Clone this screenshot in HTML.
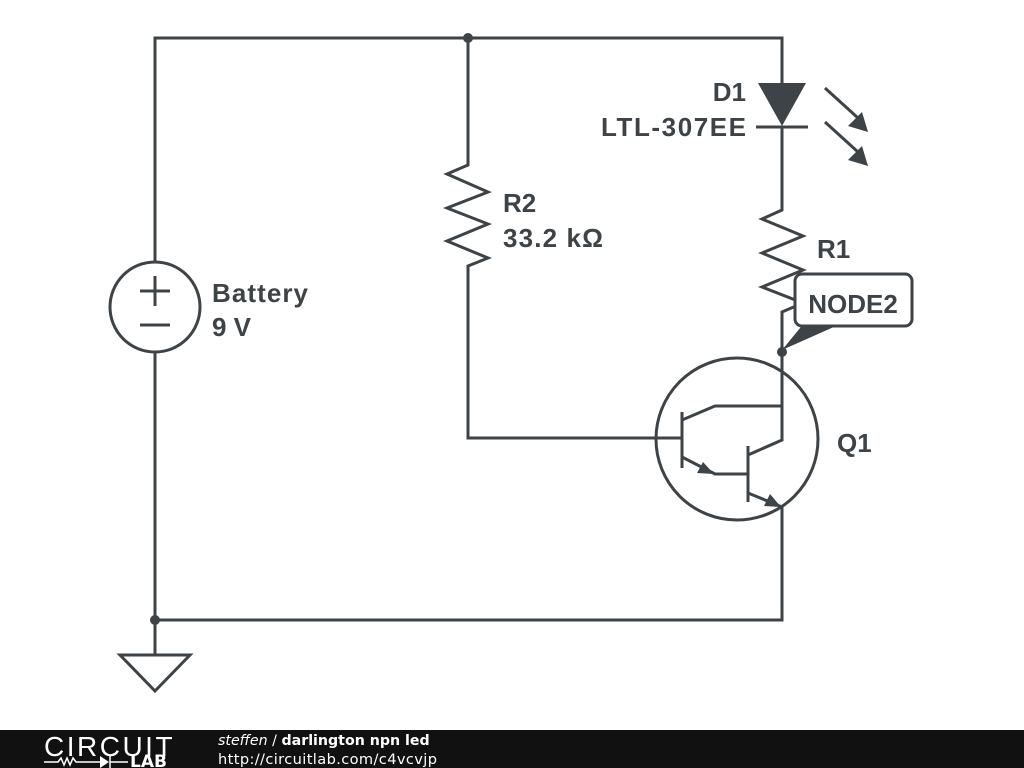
<!DOCTYPE html>
<html><head><meta charset="utf-8"><style>
html,body{margin:0;padding:0;background:#fff;width:1024px;height:768px;overflow:hidden}
svg{display:block}
text{font-family:"Liberation Sans",sans-serif;font-weight:bold;fill:#3d4347}
</style></head><body>
<svg width="1024" height="768" viewBox="0 0 1024 768">
<g stroke="#3d4347" stroke-width="3" fill="none" stroke-linejoin="miter">
<polyline points="155,262 155,38 782,38 782,83"/>
<line x1="155" y1="352" x2="155" y2="655"/>
<polyline points="155,620 782,620 782,507"/>
<circle cx="155" cy="307" r="45"/>
<line x1="140" y1="291" x2="170" y2="291"/><line x1="155" y1="276" x2="155" y2="306"/>
<line x1="140" y1="325" x2="170" y2="325"/>
<polygon points="120,655 190,655 155,691"/>
<polyline points="468,38 468,165 447,174 488,192 447,208 488,224 447,241 488,258 468,266 468,438 682,438"/>
<line x1="756" y1="127" x2="808" y2="127"/>
<polyline points="782,127 782,210 762,219 803,236 762,253 803,270 762,287 803,303 782,312 782,440 748,455"/>
<circle cx="737" cy="439" r="81"/>
<polyline points="782,406 715,406 682,420"/>
<line x1="682" y1="412" x2="682" y2="468"/>
<polyline points="682,457 715,474 748,474"/>
<line x1="748" y1="446" x2="748" y2="502"/>
<line x1="748" y1="493" x2="782" y2="507"/>
<line x1="825" y1="88" x2="858" y2="118"/>
<line x1="825" y1="122" x2="858" y2="152"/>
</g>
<g fill="#3d4347">
<polygon points="758,83 806,83 782,126"/>
<polygon points="868,132 848,126 862,112"/>
<polygon points="868,166 848,160 862,146"/>
<polygon points="714,474 697,473 703,462"/>
<polygon points="781,507 764,506 770,494"/>
<circle cx="468" cy="38" r="5"/>
<circle cx="155" cy="620" r="5"/>
<circle cx="782" cy="352" r="5"/>
<polygon points="782,350 805,322 845,322"/>
</g>
<rect x="795" y="274" width="117" height="52" rx="7" fill="#fff" stroke="#3d4347" stroke-width="3"/>
<text x="817" y="258" font-size="26">R1</text>
<text x="853" y="313" font-size="26" text-anchor="middle">NODE2</text>
<text x="746" y="101" font-size="26" text-anchor="end">D1</text>
<text x="746" y="136" font-size="26" text-anchor="end" textLength="145">LTL-307EE</text>
<text x="503" y="212" font-size="26">R2</text>
<text x="503" y="247" font-size="26" textLength="100">33.2 kΩ</text>
<text x="212" y="302" font-size="26" textLength="96">Battery</text>
<text x="212" y="336" font-size="26">9 V</text>
<text x="837" y="452" font-size="26">Q1</text>
<rect x="0" y="730" width="1024" height="38" fill="#111"/>
<text x="44" y="756" font-size="28" style="font-weight:normal;fill:#fff;letter-spacing:2.5px">CIRCUIT</text>
<text x="130" y="767" font-size="17" style="font-family:'DejaVu Sans',sans-serif;fill:#fff">LAB</text>
<g stroke="#fff" stroke-width="1.5" fill="none"><polyline points="44,762 58,762 61,758 64,765 67,758 70,765 73,758 76,762 100,762"/><line x1="110" y1="756" x2="110" y2="768"/><line x1="110" y1="762" x2="128" y2="762"/></g>
<polygon points="100,756 100,768 109,762" fill="#fff"/>
<text x="218" y="745" font-size="14.2" style="font-family:'DejaVu Sans',sans-serif;fill:#fff"><tspan style="font-style:italic;font-weight:normal">steffen</tspan><tspan style="font-weight:normal"> / </tspan>darlington npn led</text>
<text x="218" y="764" font-size="14.6" textLength="219" style="font-family:'DejaVu Sans',sans-serif;fill:#fff;font-weight:normal">http://circuitlab.com/c4vcvjp</text>
</svg>
</body></html>
